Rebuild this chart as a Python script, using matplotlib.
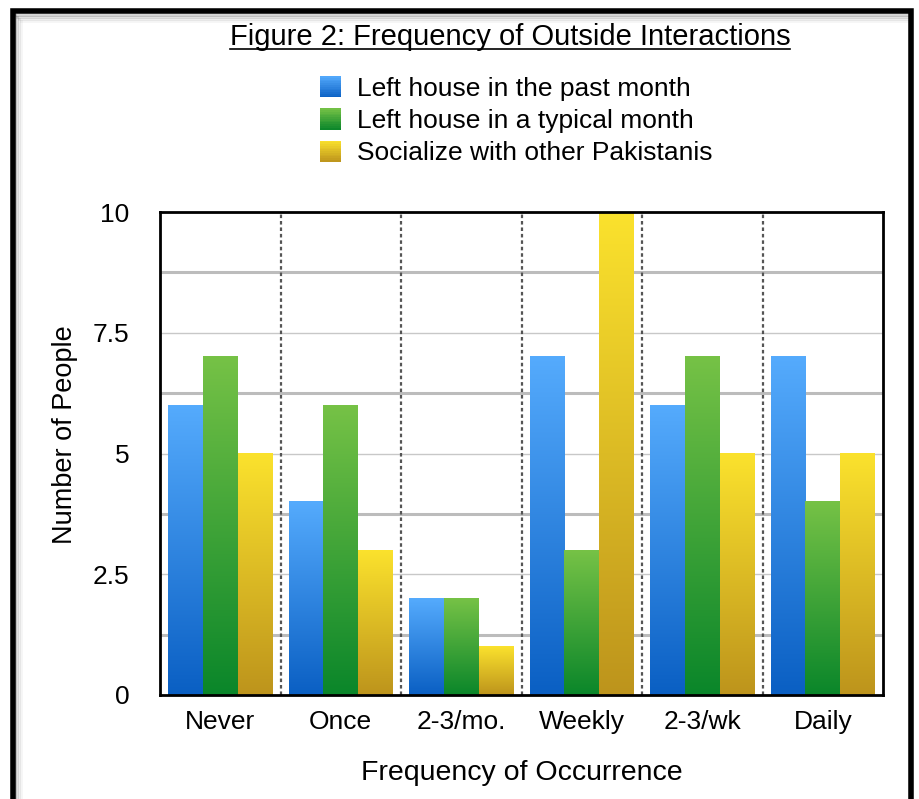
import numpy as np
import matplotlib.pyplot as plt
from matplotlib.colors import LinearSegmentedColormap
from matplotlib.patches import Rectangle
from matplotlib.legend_handler import HandlerBase
from matplotlib.lines import Line2D

plt.rcParams['font.family'] = ['Liberation Sans', 'DejaVu Sans']

# Data
categories = ['Never', 'Once', '2-3/mo.', 'Weekly', '2-3/wk', 'Daily']
past_month = [6, 4, 2, 7, 6, 7]
typical_month = [7, 6, 2, 3, 7, 4]
socialize = [5, 3, 1, 10, 5, 5]
series_names = ['Left house in the past month', 'Left house in a typical month',
                'Socialize with other Pakistanis']
series_values = [past_month, typical_month, socialize]
# (top colour, bottom colour) per series
series_colors = [('#55abfd', '#0a5fc3'), ('#76c246', '#0a862a'), ('#fbe22d', '#bd941c')]

W, H = 919, 799
fig = plt.figure(figsize=(W / 100, H / 100), dpi=100)
ax = fig.add_axes([160 / W, 1 - 695 / H, 723 / W, 483 / H])

x = np.arange(len(categories))
bw = 0.288
grad = np.linspace(1, 0, 256).reshape(-1, 1)

for k, (vals, (top, bot)) in enumerate(zip(series_values, series_colors)):
    cmap = LinearSegmentedColormap.from_list('g%d' % k, [bot, top])
    bars = ax.bar(x + (k - 1) * bw, vals, bw, color='none', zorder=2)
    for b in bars:
        x0, y0 = b.get_x(), b.get_y()
        ax.imshow(grad, extent=[x0, x0 + b.get_width(), y0, y0 + b.get_height()],
                  aspect='auto', cmap=cmap, vmin=0, vmax=1, zorder=2,
                  interpolation='bilinear')

ax.set_xlim(-0.5, len(categories) - 0.5)
ax.set_ylim(0, 10)
ax.set_aspect('auto')

# grid lines
for v in [2.5, 5, 7.5]:
    ax.axhline(v, color='#c8c8c8', lw=1.0, zorder=1)
for v in [1.25, 3.75, 6.25, 8.75]:
    ax.axhline(v, color='#bcbcbc', lw=2.2, zorder=1)
for v in x[:-1] + 0.5:
    ax.axvline(v, color='#555555', lw=1.6, linestyle=(0, (1.6, 1.3)), zorder=3)

ax.set_yticks([0, 2.5, 5, 7.5, 10])
ax.set_yticklabels(['0', '2.5', '5', '7.5', '10'])
ax.set_xticks(x)
ax.set_xticklabels(categories)
ax.tick_params(axis='both', length=0, labelsize=19)
ax.tick_params(axis='y', pad=22)
ax.tick_params(axis='x', pad=11)
for s in ax.spines.values():
    s.set_linewidth(2.0)
    s.set_zorder(4)

ax.set_xlabel('Frequency of Occurrence', fontsize=20.5, labelpad=18.5)
ax.set_ylabel('Number of People', fontsize=19.5)
ax.yaxis.set_label_coords(-0.114, 0.54)


class GradHandler(HandlerBase):
    def __init__(self, top, bot):
        super().__init__()
        self.top, self.bot = top, bot

    def create_artists(self, legend, orig_handle, xdescent, ydescent, width, height, fontsize, trans):
        cmap = LinearSegmentedColormap.from_list('h', [self.bot, self.top])
        n = 12
        side = width
        arts = []
        y0 = -ydescent + (height - side) / 2
        for i in range(n):
            r = Rectangle((-xdescent, y0 + side * i / n), side, side / n + 0.05,
                          facecolor=cmap((i + 0.5) / n), edgecolor='none', transform=trans)
            arts.append(r)
        return arts


handles = [Rectangle((0, 0), 1, 1) for _ in series_names]
handler_map = {h: GradHandler(t, b) for h, (t, b) in zip(handles, series_colors)}
fig.legend(handles, series_names, loc='upper left', bbox_to_anchor=(320 / W, 1 - 77 / H),
           frameon=False, fontsize=19, handler_map=handler_map, handlelength=0.8,
           handletextpad=0.6, labelspacing=0.31, borderpad=0, borderaxespad=0)

# title, underlined
title = fig.text(510 / W, 1 - 37 / H, 'Figure 2: Frequency of Outside Interactions',
                 ha='center', va='center', fontsize=21)
fig.canvas.draw()
bb = title.get_window_extent()
fig.add_artist(Line2D([bb.x0 / W, bb.x1 / W], [(bb.y0 + 2) / H] * 2, color='black', lw=1.2))

# outer frame with inner shadow
for i, a in enumerate([0.18, 0.12, 0.07, 0.04]):
    off = 15 + i * 2
    fig.add_artist(Line2D([off / W, 908 / W], [1 - off / H] * 2, color='black', alpha=a, lw=2))
    fig.add_artist(Line2D([off / W] * 2, [1 - off / H, 0], color='black', alpha=a, lw=2))
fig.add_artist(Rectangle((12.5 / W, -0.05), 898 / W, 1.05 - 10.5 / H, fill=False,
                         edgecolor='black', lw=4, transform=fig.transFigure))

fig.savefig('out.png', dpi=100)
